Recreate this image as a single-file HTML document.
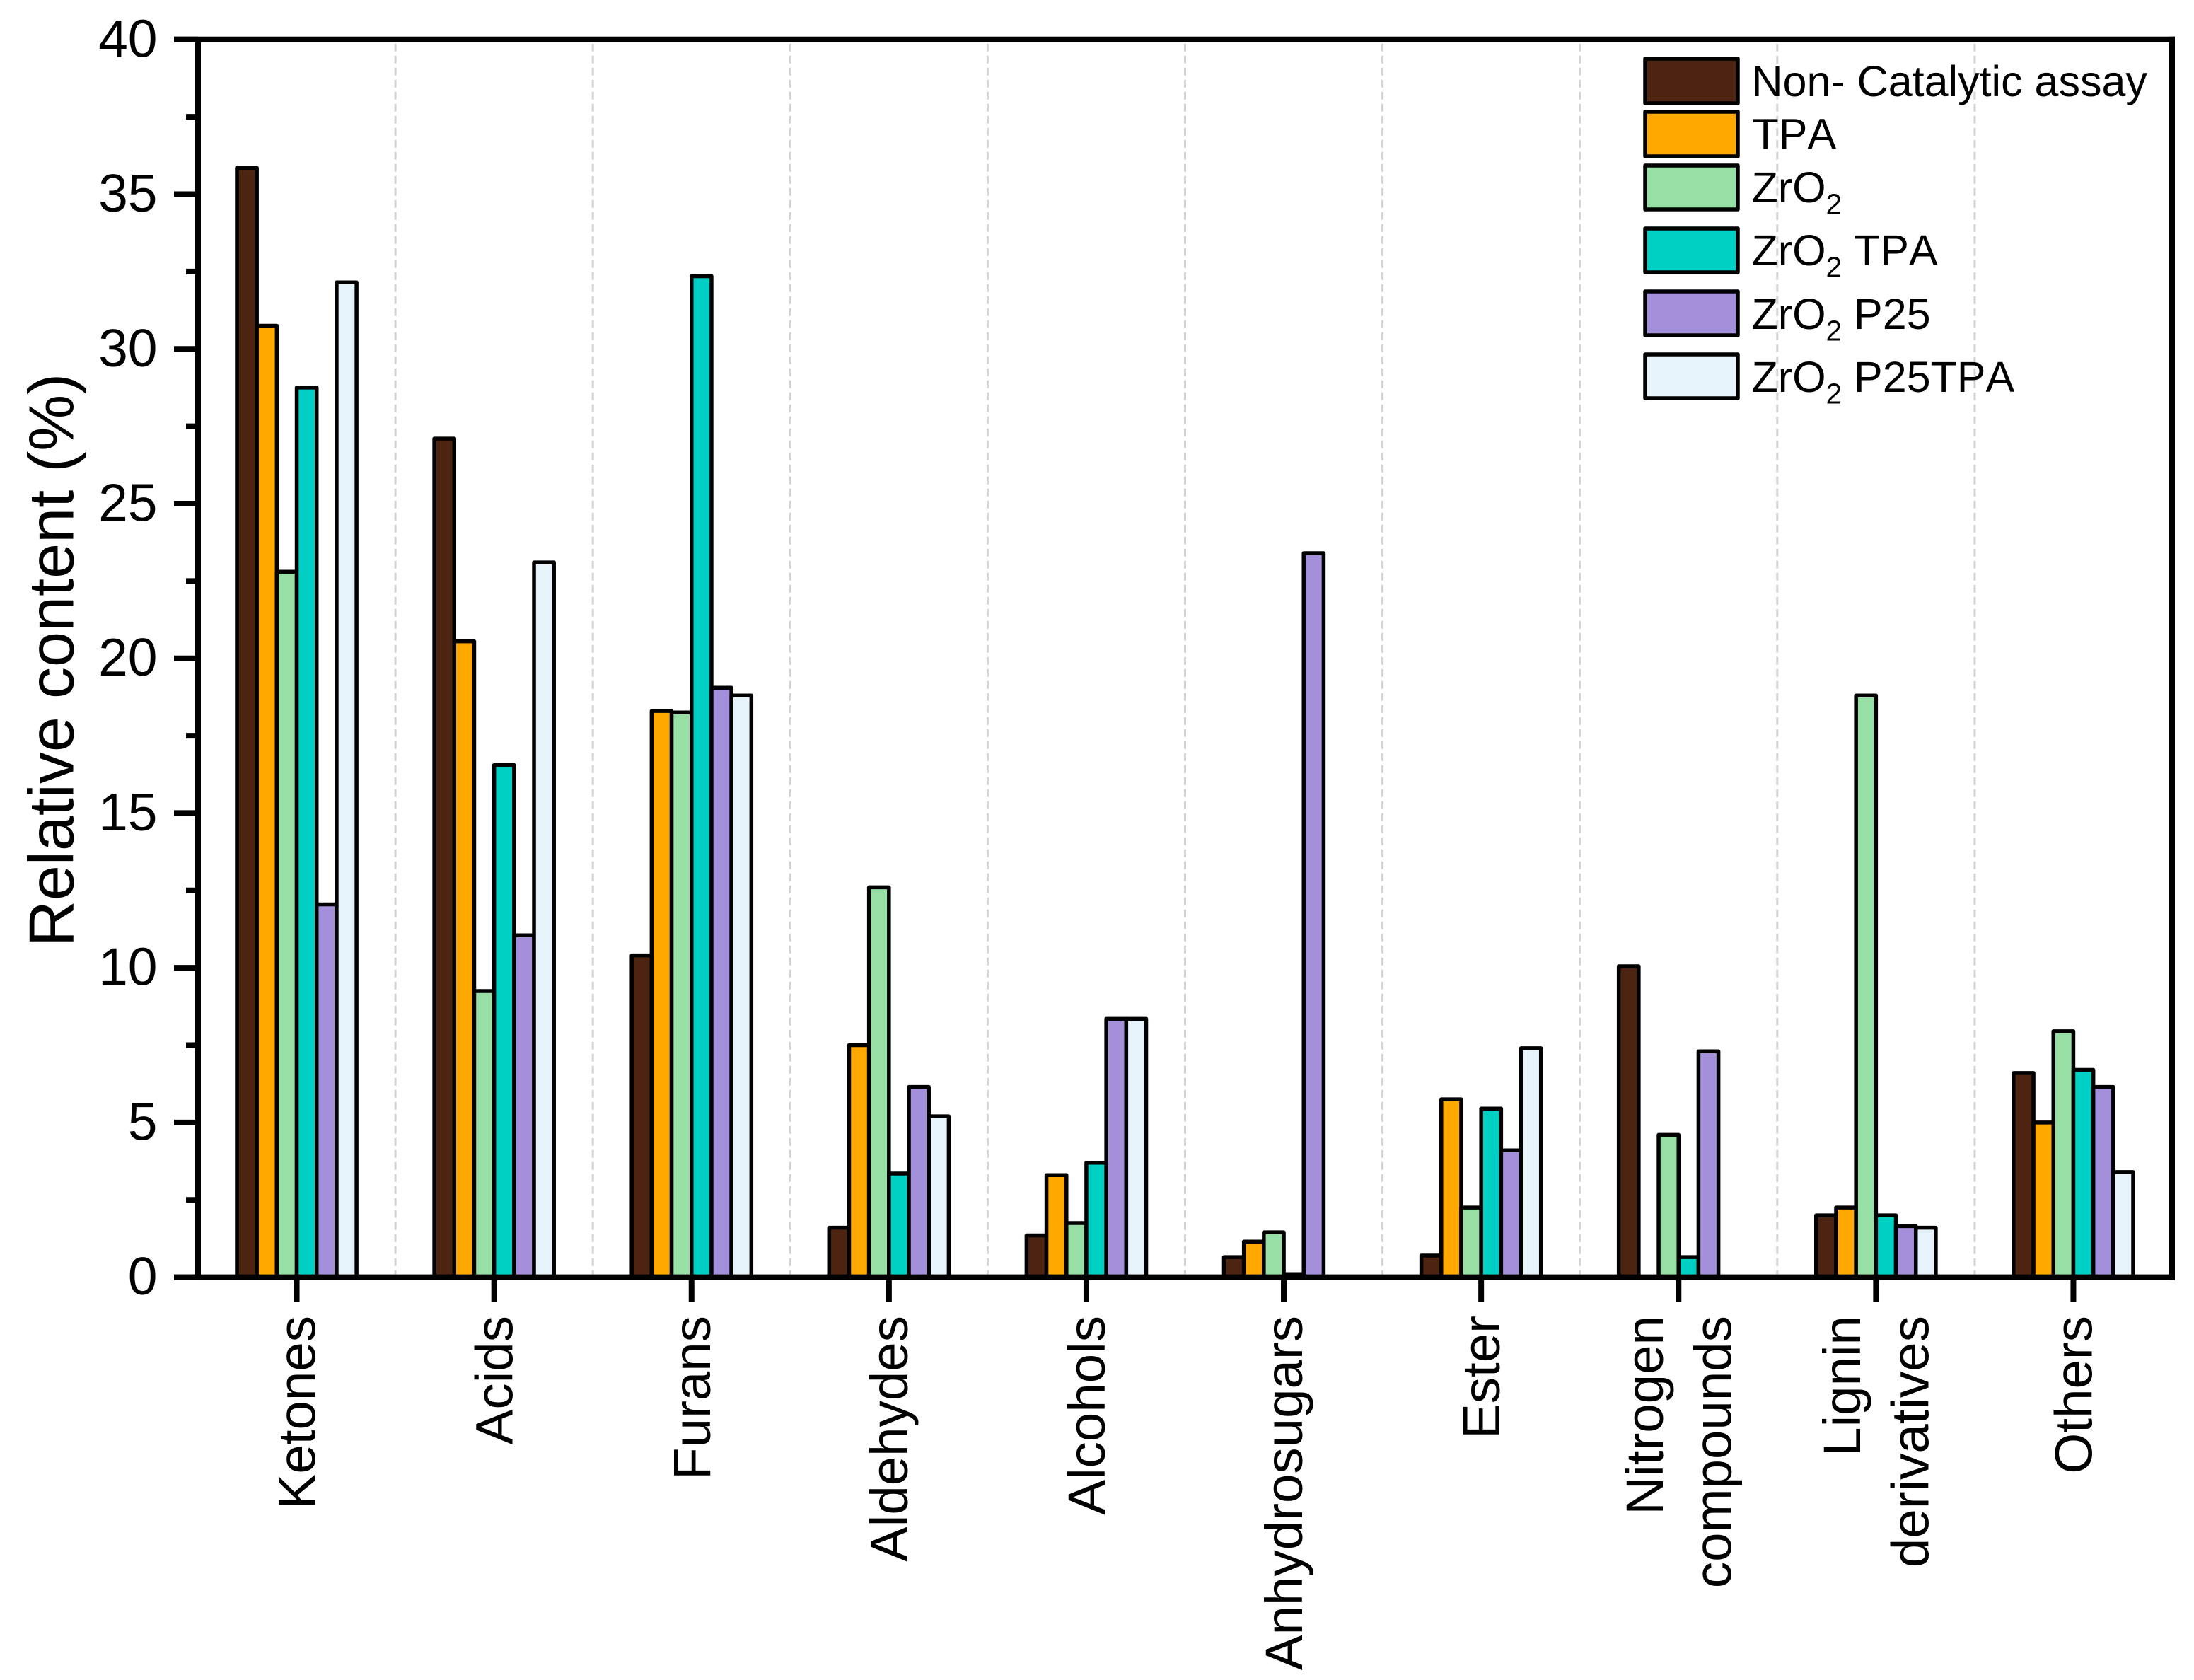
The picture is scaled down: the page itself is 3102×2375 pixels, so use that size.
<!DOCTYPE html>
<html lang="en">
<head>
<meta charset="utf-8">
<title>Relative content by compound class</title>
<style>
html,body{margin:0;padding:0;background:#fff;}
svg{display:block;font-family:"Liberation Sans",Arial,sans-serif;fill:#000;font-kerning:none;}
.legend-text{font-size:61px;}
.legend-swatch{stroke:#000;stroke-width:5.5;stroke-linejoin:round;}
</style>
</head>
<body>
<svg id="chart" xmlns="http://www.w3.org/2000/svg" width="3102" height="2375" viewBox="0 0 3102 2375">
  <rect x="0" y="0" width="3102" height="2375" fill="#ffffff"/>
  <g id="grid"></g>
  <g id="bars"></g>
  <g id="axes"></g>
  <text transform="translate(103.5,933) rotate(-90)" text-anchor="middle" font-size="90">Relative content (%)</text>
  <g>
    <g>
      <rect class="legend-swatch" x="2326" y="83" width="131" height="63" fill="#4d2412"/>
      <text class="legend-text" x="2476.5" y="136">Non- Catalytic assay</text>
    </g>
    <g>
      <rect class="legend-swatch" x="2326" y="158" width="131" height="63" fill="#ffa800"/>
      <text class="legend-text" x="2477.5" y="210.7">TPA</text>
    </g>
    <g>
      <rect class="legend-swatch" x="2326" y="234" width="131" height="62" fill="#98dfa5"/>
      <text class="legend-text" x="2476.5" y="286">ZrO<tspan font-size="40.5" dy="16.3">2</tspan></text>
    </g>
    <g>
      <rect class="legend-swatch" x="2326" y="323" width="131" height="62" fill="#00d0c4"/>
      <text class="legend-text" x="2476.5" y="375">ZrO<tspan font-size="40.5" dy="16.3">2</tspan><tspan dy="-16.3"> TPA</tspan></text>
    </g>
    <g>
      <rect class="legend-swatch" x="2326" y="412" width="131" height="62" fill="#a48fdb"/>
      <text class="legend-text" x="2476.5" y="465">ZrO<tspan font-size="40.5" dy="16.3">2</tspan><tspan dy="-16.3"> P25</tspan></text>
    </g>
    <g>
      <rect class="legend-swatch" x="2326" y="501" width="131" height="62" fill="#e6f3fb"/>
      <text class="legend-text" x="2476.5" y="554">ZrO<tspan font-size="40.5" dy="16.3">2</tspan><tspan dy="-16.3"> P25TPA</tspan></text>
    </g>
  </g>
</svg>
<script>
const categories = ["Ketones", "Acids", "Furans", "Aldehydes", "Alcohols", "Anhydrosugars", "Ester", "Nitrogen\ncompounds", "Lignin\nderivatives", "Others"];
const seriesNames = ["non-catalytic", "tpa", "zro2", "zro2-tpa", "zro2-p25", "zro2-p25-tpa"];
const seriesColors = ["#4d2412", "#ffa800", "#98dfa5", "#00d0c4", "#a48fdb", "#e6f3fb"];
const nonCatalytic = [35.85, 27.1, 10.4, 1.6, 1.35, 0.65, 0.7, 10.05, 2.0, 6.6];
const tpa = [30.75, 20.55, 18.3, 7.5, 3.3, 1.15, 5.75, 0, 2.25, 5.0];
const zro2 = [22.8, 9.25, 18.25, 12.6, 1.75, 1.45, 2.25, 4.6, 18.8, 7.95];
const zro2Tpa = [28.75, 16.55, 32.35, 3.35, 3.7, 0.1, 5.45, 0.65, 2.0, 6.7];
const zro2P25 = [12.05, 11.05, 19.05, 6.15, 8.35, 23.4, 4.1, 7.3, 1.65, 6.15];
const zro2P25Tpa = [32.15, 23.1, 18.8, 5.2, 8.35, 0, 7.4, 0, 1.6, 3.4];
const majorTicks = [0, 5, 10, 15, 20, 25, 30, 35, 40];
const minorTicks = [2.5, 7.5, 12.5, 17.5, 22.5, 27.5, 32.5, 37.5];

const allSeries = [nonCatalytic, tpa, zro2, zro2Tpa, zro2P25, zro2P25Tpa];
const NS = "http://www.w3.org/2000/svg";
const plotLeft = 280, plotRight = 3071, plotTop = 55.8, plotBottom = 1805.6;
const yMax = 40;
const barFrac = 0.606;

function yScale(v) { return plotBottom - (v / yMax) * (plotBottom - plotTop); }
function bandWidth() { return (plotRight - plotLeft) / categories.length; }
function xScale(i) { return plotLeft + bandWidth() * (i + 0.5); }

function make(tag, parent, attrs) {
  const el = document.createElementNS(NS, tag);
  for (const k in attrs) el.setAttribute(k, attrs[k]);
  parent.appendChild(el);
  return el;
}

const gridG = document.getElementById("grid");
const barsG = document.getElementById("bars");
const axesG = document.getElementById("axes");

for (let i = 1; i < categories.length; i++) {
  const gx = plotLeft + bandWidth() * i;
  const line = make("line", gridG, { x1: gx, x2: gx, y1: plotTop + 6, y2: plotBottom - 4, stroke: "#d3d3d3", "stroke-width": 3, "stroke-dasharray": "11 6" });
  
  
}

categories.forEach(function (cat, c) {
  const group = make("g", barsG, {});
  
  
  const groupW = bandWidth() * barFrac;
  const w = groupW / allSeries.length;
  allSeries.forEach(function (vals, s) {
    const top = yScale(vals[c]);
    const rect = make("rect", group, {
      x: xScale(c) - groupW / 2 + s * w,
      y: top,
      width: w,
      height: Math.max(0, plotBottom - top),
      fill: seriesColors[s],
      stroke: "#000",
      "stroke-width": 5.5,
      "stroke-linejoin": "round"
    });
    
    
  });
});

majorTicks.forEach(function (t) {
  const y = yScale(t);
  const tick = make("line", axesG, { x1: 246, x2: plotLeft, y1: y, y2: y, stroke: "#000", "stroke-width": 8 });
  
  
  const label = make("text", axesG, { x: 222.5, y: y + 24.5, "text-anchor": "end", "font-size": 75 });
  label.textContent = String(t);
  
  
});

minorTicks.forEach(function (t) {
  const y = yScale(t);
  const tick = make("line", axesG, { x1: 263, x2: plotLeft, y1: y, y2: y, stroke: "#000", "stroke-width": 8 });
  
  
});

categories.forEach(function (cat, c) {
  const x = xScale(c);
  const tick = make("line", axesG, { x1: x, x2: x, y1: plotBottom, y2: 1840, stroke: "#000", "stroke-width": 8 });
  
  
  const lines = cat.split("\n");
  lines.forEach(function (ln, k) {
    const bx = x + 26 + (k - (lines.length - 1) / 2) * 96.5;
    const label = make("text", axesG, { transform: "translate(" + bx + ",1860) rotate(-90)", "text-anchor": "end", "font-size": 74.5 });
    label.textContent = ln;
    
    
  });
});

const spines = [
  ["y-axis-line", plotLeft, plotTop, plotLeft, plotBottom],
  ["right-spine", plotRight, plotTop - 4, plotRight, plotBottom + 4],
  ["top-spine", 246, plotTop, plotRight + 4, plotTop],
  ["x-axis-line", 246, plotBottom, plotRight + 4, plotBottom]
];
spines.forEach(function (s) {
  const line = make("line", axesG, { x1: s[1], y1: s[2], x2: s[3], y2: s[4], stroke: "#000", "stroke-width": 8 });
  
  
});
</script>
</body>
</html>
